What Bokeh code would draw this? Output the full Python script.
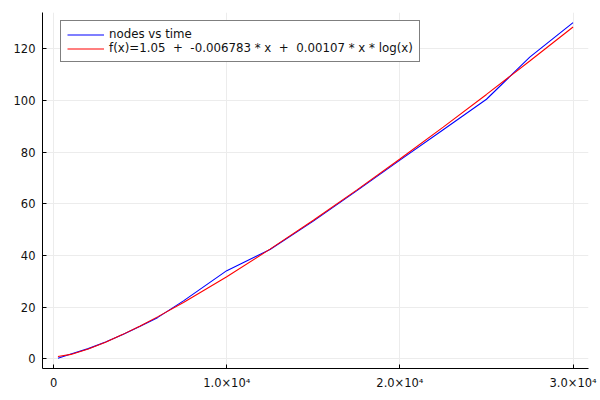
from bokeh.plotting import figure
from bokeh.models import Range1d, Legend, LegendItem, FixedTicker
from bokeh.embed import file_html
from bokeh.resources import INLINE

# measured series: nodes vs time
nodes = [250, 1000, 2000, 3000, 4000, 5000, 6000, 7500, 10000, 12500,
         15000, 17500, 20000, 22500, 25000, 27500, 30000]
times = [0.2, 1.8, 3.9, 6.5, 9.4, 12.6, 15.9, 22.4, 34.1, 42.3,
         53.3, 65.0, 76.9, 88.7, 100.5, 116.8, 130.2]

# fitted curve values
fit_x = [250, 1000, 2000, 3000, 4000, 5000, 6000, 7500, 10000, 12500,
         15000, 17500, 20000, 22500, 25000, 27500, 30000]
fit_y = [0.83, 1.66, 3.75, 6.40, 9.42, 12.70, 16.20, 21.78, 31.77, 42.43,
         53.64, 65.29, 77.33, 89.69, 102.36, 115.30, 128.48]

series_label = "nodes vs time"
fit_label = "f(x)=1.05  +  -0.006783 * x  +  0.00107 * x * log(x)"

x_ticks = [0, 10000, 20000, 30000]
x_tick_labels = ["0", "1.0×10⁴", "2.0×10⁴", "3.0×10⁴"]
y_ticks = [0, 20, 40, 60, 80, 100, 120]

FONT = "DejaVu Sans"

p = figure(width=600, height=400, output_backend="svg", toolbar_location=None,
           x_range=Range1d(-642, 30892), y_range=Range1d(-3.8, 134.1),
           min_border_left=42, min_border_right=12, min_border_top=12,
           min_border_bottom=32)
p.outline_line_color = None
p.background_fill_color = "white"
p.border_fill_color = "white"

r1 = p.line(nodes, times, line_color="#0000ff", line_width=1.1)
r2 = p.line(fit_x, fit_y, line_color="#ff0000", line_width=1.1)

for ax in (p.xaxis[0], p.yaxis[0]):
    ax.axis_line_color = "black"
    ax.axis_line_width = 1
    ax.major_tick_in = 4
    ax.major_tick_out = 0
    ax.minor_tick_in = 0
    ax.minor_tick_out = 0
    ax.major_tick_line_color = "black"
    ax.major_label_text_font = FONT
    ax.major_label_text_font_size = "11.5px"
    ax.major_label_text_color = "#111111"
    ax.major_label_standoff = 7

p.xaxis[0].ticker = FixedTicker(ticks=x_ticks)
p.xaxis[0].major_label_overrides = {t: l for t, l in zip(x_ticks, x_tick_labels)}
p.yaxis[0].ticker = FixedTicker(ticks=y_ticks)

p.xgrid.grid_line_color = "#ececec"
p.ygrid.grid_line_color = "#ececec"
p.xgrid.grid_line_width = 1
p.ygrid.grid_line_width = 1

legend = Legend(items=[LegendItem(label=series_label, renderers=[r1]),
                       LegendItem(label=fit_label, renderers=[r2])],
                location=(18, 306))
legend.label_text_font = FONT
legend.label_text_font_size = "11.8px"
legend.label_text_color = "#111111"
legend.glyph_width = 37
legend.glyph_height = 13
legend.label_height = 13
legend.label_standoff = 5
legend.spacing = 0
legend.padding = 6
legend.margin = 0
legend.border_line_color = "black"
legend.border_line_width = 1
legend.background_fill_color = "white"
legend.background_fill_alpha = 1
p.add_layout(legend, "center")

open("out.html", "w").write(file_html(p, INLINE))
